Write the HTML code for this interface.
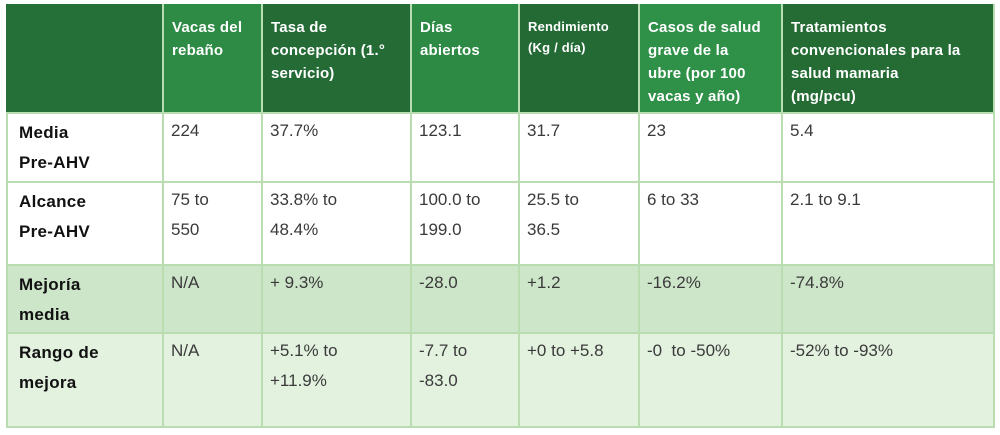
<!DOCTYPE html>
<html><head><style>
body{margin:0;width:1000px;height:435px;background:#fff;position:relative;overflow:hidden;font-family:"Liberation Sans",sans-serif}
.c{position:absolute;box-sizing:border-box;border-right:2px solid #b9dcb0;border-bottom:2px solid #b9dcb0;white-space:nowrap}
.h{color:#fff;font-weight:bold;font-size:15px;line-height:23px;padding:12px 0 0 8px;letter-spacing:0.2px}
.v{color:#3a3a3a;font-size:17px;line-height:30px;padding:2px 0 0 7px}
.l{color:#111;font-weight:bold;font-size:17px;line-height:30px;padding:4px 0 0 11px;letter-spacing:0.3px}
</style></head><body>
<div class="c" style="left:6px;top:4px;width:158px;height:110px;background:#256f38"></div>
<div class="c h" style="left:164px;top:4px;width:99px;height:110px;background:#2e8b45">Vacas del<br>rebaño</div>
<div class="c h" style="left:263px;top:4px;width:149px;height:110px;background:#256b36">Tasa de<br>concepción (1.°<br>servicio)</div>
<div class="c h" style="left:412px;top:4px;width:108px;height:110px;background:#2d8a44">Días<br>abiertos</div>
<div class="c h" style="left:520px;top:4px;width:120px;height:110px;background:#236a34;font-size:13px;line-height:21px">Rendimiento<br>(Kg / día)</div>
<div class="c h" style="left:640px;top:4px;width:143px;height:110px;background:#2f9048">Casos de salud<br>grave de la<br>ubre (por 100<br>vacas y año)</div>
<div class="c h" style="left:783px;top:4px;width:212px;height:110px;background:#246b34">Tratamientos<br>convencionales para la<br>salud mamaria<br>(mg/pcu)</div>

<div class="c l" style="left:6px;top:114px;width:158px;height:69px;border-left:2px solid #b9dcb0">Media<br>Pre-AHV</div>
<div class="c v" style="left:164px;top:114px;width:99px;height:69px">224</div>
<div class="c v" style="left:263px;top:114px;width:149px;height:69px">37.7%</div>
<div class="c v" style="left:412px;top:114px;width:108px;height:69px">123.1</div>
<div class="c v" style="left:520px;top:114px;width:120px;height:69px">31.7</div>
<div class="c v" style="left:640px;top:114px;width:143px;height:69px">23</div>
<div class="c v" style="left:783px;top:114px;width:212px;height:69px">5.4</div>

<div class="c l" style="left:6px;top:183px;width:158px;height:83px;border-left:2px solid #b9dcb0">Alcance<br>Pre-AHV</div>
<div class="c v" style="left:164px;top:183px;width:99px;height:83px">75 to<br>550</div>
<div class="c v" style="left:263px;top:183px;width:149px;height:83px">33.8% to<br>48.4%</div>
<div class="c v" style="left:412px;top:183px;width:108px;height:83px">100.0 to<br>199.0</div>
<div class="c v" style="left:520px;top:183px;width:120px;height:83px">25.5 to<br>36.5</div>
<div class="c v" style="left:640px;top:183px;width:143px;height:83px">6 to 33</div>
<div class="c v" style="left:783px;top:183px;width:212px;height:83px">2.1 to 9.1</div>

<div class="c l" style="left:6px;top:266px;width:158px;height:68px;background:#cde6c9;border-left:2px solid #b9dcb0">Mejoría<br>media</div>
<div class="c v" style="left:164px;top:266px;width:99px;height:68px;background:#cde6c9">N/A</div>
<div class="c v" style="left:263px;top:266px;width:149px;height:68px;background:#cde6c9">+ 9.3%</div>
<div class="c v" style="left:412px;top:266px;width:108px;height:68px;background:#cde6c9">-28.0</div>
<div class="c v" style="left:520px;top:266px;width:120px;height:68px;background:#cde6c9">+1.2</div>
<div class="c v" style="left:640px;top:266px;width:143px;height:68px;background:#cde6c9">-16.2%</div>
<div class="c v" style="left:783px;top:266px;width:212px;height:68px;background:#cde6c9">-74.8%</div>

<div class="c l" style="left:6px;top:334px;width:158px;height:94px;background:#e3f1df;border-left:2px solid #b9dcb0">Rango de<br>mejora</div>
<div class="c v" style="left:164px;top:334px;width:99px;height:94px;background:#e3f1df">N/A</div>
<div class="c v" style="left:263px;top:334px;width:149px;height:94px;background:#e3f1df">+5.1% to<br>+11.9%</div>
<div class="c v" style="left:412px;top:334px;width:108px;height:94px;background:#e3f1df">-7.7 to<br>-83.0</div>
<div class="c v" style="left:520px;top:334px;width:120px;height:94px;background:#e3f1df">+0 to +5.8</div>
<div class="c v" style="left:640px;top:334px;width:143px;height:94px;background:#e3f1df">-0&nbsp; to -50%</div>
<div class="c v" style="left:783px;top:334px;width:212px;height:94px;background:#e3f1df">-52% to -93%</div>
</body></html>
